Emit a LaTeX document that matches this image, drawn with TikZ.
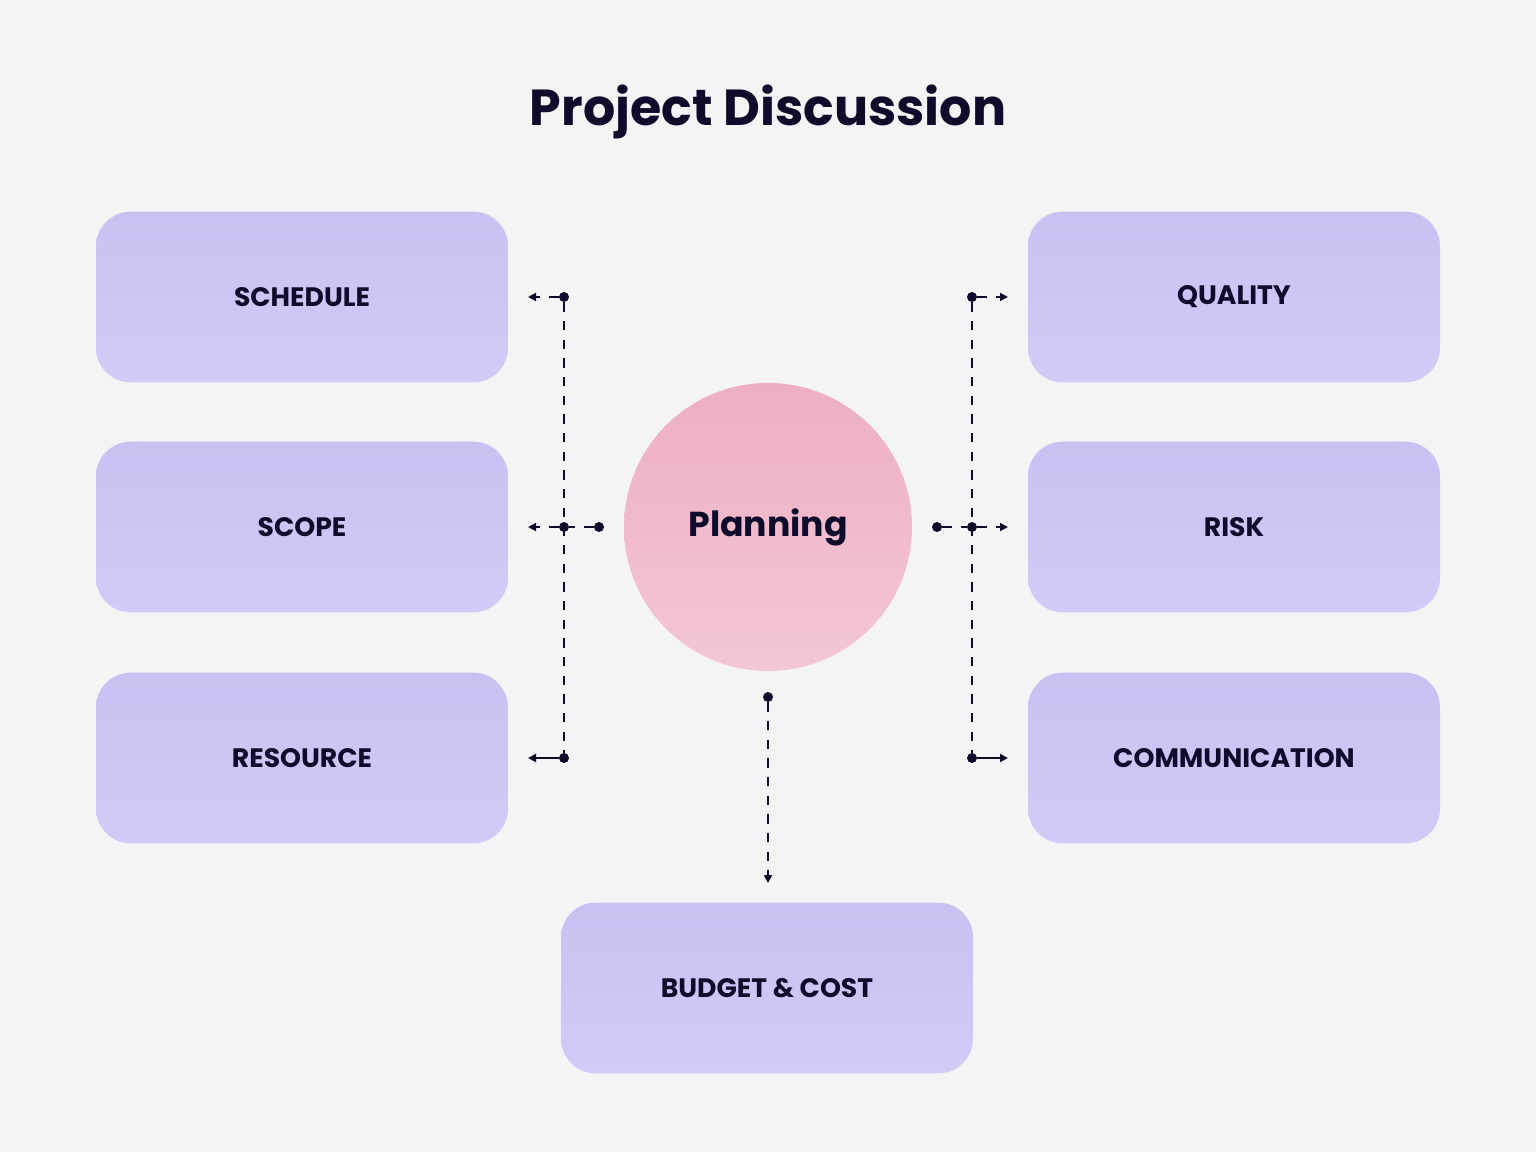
\documentclass[tikz,border=0pt]{standalone}
\usepackage{fontspec}
\setmainfont{Poppins}
\usetikzlibrary{arrows.meta}
\definecolor{bg}{HTML}{F4F4F4}
\definecolor{ink}{HTML}{0E0B2B}
\definecolor{boxtop}{HTML}{C8C2F2}
\definecolor{boxbot}{HTML}{D1CBF7}
\definecolor{pinktop}{HTML}{EDAFC3}
\definecolor{pinkbot}{HTML}{F4C7D4}
\tikzset{
  box/.style={rounded corners=26pt, minimum width=309pt, minimum height=128pt,
    top color=boxtop, bottom color=boxbot, draw=none, text=ink,
    font=\fontsize{20}{24}\selectfont\bfseries},
  dline/.style={draw=ink, line width=1.3pt, dash pattern=on 7pt off 7pt},
  arr/.style={dline, -{Triangle[length=6pt,width=6pt]}},
  solidarr/.style={draw=ink, line width=1.3pt, -{Triangle[length=6pt,width=6pt]}},
  dot/.style={circle, fill=ink, inner sep=0pt, minimum size=7.5pt},
}
\begin{document}
\begin{tikzpicture}[x=0.75pt,y=-0.75pt]
\fill[bg] (0,0) rectangle (1536,1152);
\useasboundingbox (0,0) rectangle (1536,1152);
\node[text=ink, font=\fontsize{38}{44}\selectfont\bfseries] (title) at (768,112) {Project Discussion};
\node[box] (schedule) at (302,297) {SCHEDULE};
\node[box] (scope) at (302,527) {SCOPE};
\node[box] (resource) at (302,758) {RESOURCE};
\node[box] (quality) at (1234,297) {QUALITY};
\node[box] (risk) at (1234,527) {RISK};
\node[box] (comm) at (1234,758) {COMMUNICATION};
\node[box] (budget) at (767,988) {BUDGET \& COST};
\node[circle, minimum size=216pt, inner sep=0pt, top color=pinktop, bottom color=pinkbot, text=ink,
  font=\fontsize{26}{30}\selectfont\bfseries] (plan) at (768,527) {Planning};
% left
\node[dot] (l1) at (564,297) {};
\node[dot] (l2) at (564,527) {};
\node[dot] (l3) at (564,758) {};
\node[dot] (lc) at (599,527) {};
\coordinate (la1) at (528,297);
\coordinate (la2) at (528,527);
\coordinate (la3) at (528,758);
\draw[dline] (l1) -- (l3);
\draw[dline] (lc) -- (l2);
\draw[arr] (l1) -- (la1);
\draw[arr] (l2) -- (la2);
\draw[solidarr] (l3) -- (la3);
% right
\node[dot] (r1) at (972,297) {};
\node[dot] (r2) at (972,527) {};
\node[dot] (r3) at (972,758) {};
\node[dot] (rc) at (937,527) {};
\coordinate (ra1) at (1008,297);
\coordinate (ra2) at (1008,527);
\coordinate (ra3) at (1008,758);
\draw[dline] (r1) -- (r3);
\draw[dline] (rc) -- (r2);
\draw[arr] (r1) -- (ra1);
\draw[arr] (r2) -- (ra2);
\draw[solidarr] (r3) -- (ra3);
% bottom
\node[dot] (b1) at (768,697) {};
\coordinate (ba) at (768,883);
\draw[arr] (b1) -- (ba);
\end{tikzpicture}
\end{document}
